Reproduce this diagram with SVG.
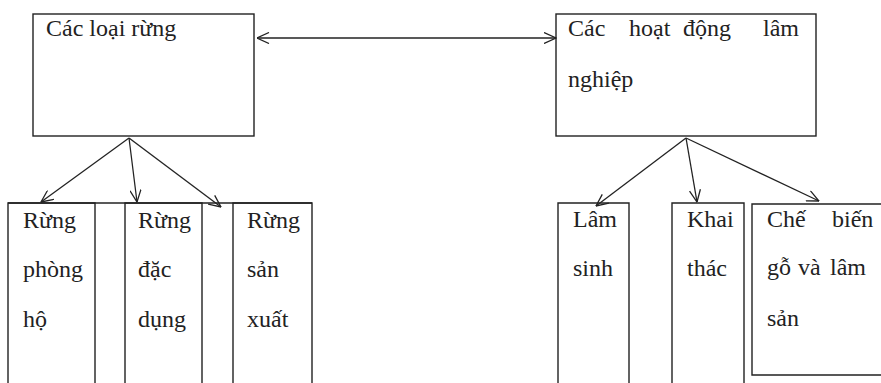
<svg xmlns="http://www.w3.org/2000/svg" width="881" height="383" viewBox="0 0 881 383">
<style>
.box{fill:none;stroke:#222;stroke-width:1.4}
.ln{fill:none;stroke:#222;stroke-width:1.3}
.t{font-family:'Liberation Serif','DejaVu Serif','Times New Roman',serif;font-size:24px;fill:#222}
</style>
<defs>
<marker id="ah" viewBox="0 0 13 12" refX="12.5" refY="6" markerWidth="13" markerHeight="12" markerUnits="userSpaceOnUse" orient="auto-start-reverse">
<path d="M0.5,0.5 L12.5,6 L0.5,11.5" fill="none" stroke="#222" stroke-width="1.3"/>
</marker>
</defs>
<rect width="881" height="383" fill="#fff"/>

<g id="cac-loai-rung">
<rect class="box" x="33" y="14" width="221" height="122"/>
<text class="t" font-family="Liberation Serif, serif" x="46" y="36">Các loại rừng</text>
</g>

<g id="cac-hoat-dong">
<rect class="box" x="556" y="14" width="260" height="122"/>
<text class="t" font-family="Liberation Serif, serif" y="36"><tspan x="568">Các</tspan><tspan x="629">hoạt</tspan><tspan x="683">động</tspan><tspan x="763">lâm</tspan></text>
<text class="t" font-family="Liberation Serif, serif" x="568" y="87">nghiệp</text>
</g>

<g id="left-table-top">
<line class="box" x1="8" y1="203" x2="312" y2="203"/>
</g>

<g id="rung-phong-ho">
<path class="box" d="M8,383 V203 H95 V383"/>
<text class="t" font-family="Liberation Serif, serif" x="23" y="228">Rừng</text>
<text class="t" font-family="Liberation Serif, serif" x="23" y="277">phòng</text>
<text class="t" font-family="Liberation Serif, serif" x="23" y="327">hộ</text>
</g>

<g id="rung-dac-dung">
<path class="box" d="M125,383 V203 H202 V383"/>
<text class="t" font-family="Liberation Serif, serif" x="138" y="228">Rừng</text>
<text class="t" font-family="Liberation Serif, serif" x="138" y="277">đặc</text>
<text class="t" font-family="Liberation Serif, serif" x="138" y="327">dụng</text>
</g>

<g id="rung-san-xuat">
<path class="box" d="M233,383 V203 H312 V383"/>
<text class="t" font-family="Liberation Serif, serif" x="247" y="228">Rừng</text>
<text class="t" font-family="Liberation Serif, serif" x="247" y="277">sản</text>
<text class="t" font-family="Liberation Serif, serif" x="247" y="327">xuất</text>
</g>

<g id="lam-sinh">
<path class="box" d="M558,383 V203 H629 V383"/>
<text class="t" font-family="Liberation Serif, serif" x="573" y="227">Lâm</text>
<text class="t" font-family="Liberation Serif, serif" x="573" y="276">sinh</text>
</g>

<g id="khai-thac">
<path class="box" d="M672,383 V203 H744 V383"/>
<text class="t" font-family="Liberation Serif, serif" x="687" y="227">Khai</text>
<text class="t" font-family="Liberation Serif, serif" x="687" y="276">thác</text>
</g>

<g id="che-bien">
<path class="box" d="M890,204 H752 V375 H890"/>
<text class="t" font-family="Liberation Serif, serif" y="227"><tspan x="767">Chế</tspan><tspan x="832">biến</tspan></text>
<text class="t" font-family="Liberation Serif, serif" y="275"><tspan x="767">gỗ</tspan><tspan x="798">và</tspan><tspan x="830">lâm</tspan></text>
<text class="t" font-family="Liberation Serif, serif" x="767" y="326">sản</text>
</g>

<g id="connectors">
<line class="ln" x1="257" y1="38" x2="556" y2="38" marker-start="url(#ah)" marker-end="url(#ah)"/>
<line class="ln" x1="129" y1="138" x2="41" y2="202" marker-end="url(#ah)"/>
<line class="ln" x1="129" y1="138" x2="137" y2="202" marker-end="url(#ah)"/>
<line class="ln" x1="129" y1="138" x2="221" y2="207" marker-end="url(#ah)"/>
<line class="ln" x1="686" y1="138" x2="596" y2="206" marker-end="url(#ah)"/>
<line class="ln" x1="686" y1="138" x2="697" y2="202" marker-end="url(#ah)"/>
<line class="ln" x1="686" y1="138" x2="819" y2="201" marker-end="url(#ah)"/>
</g>
</svg>
